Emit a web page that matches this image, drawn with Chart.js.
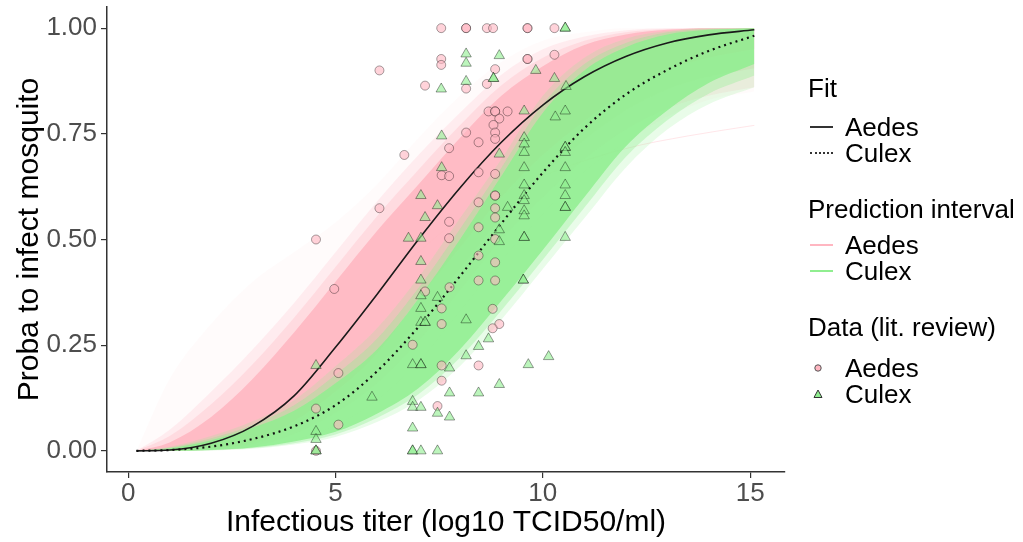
<!DOCTYPE html>
<html>
<head>
<meta charset="utf-8">
<script src="https://cdn.jsdelivr.net/npm/chart.js@4.4.1/dist/chart.umd.min.js"></script>
<style>
  html, body { margin: 0; padding: 0; background: #fff; }
  #wrap { position: relative; width: 1023px; height: 542px; }
  #chart { position: absolute; left: 0; top: 0; }
  .lg { position: absolute; white-space: nowrap; font-family: 'Liberation Sans', Arial, sans-serif;
        font-size: 26px; line-height: 26px; color: #000; }
  .key { position: absolute; }
</style>
</head>
<body>
<div id="wrap">
  <canvas id="chart" width="1023" height="542"></canvas>

  <div class="lg" style="left:808px; top:75px;">Fit</div>
  <div class="key" style="left:810px; top:126px; width:23px; border-top:2px solid #333;"></div>
  <div class="lg" style="left:845px; top:114px;">Aedes</div>
  <div class="key" style="left:810px; top:152px; width:23px; border-top:2px dotted #333;"></div>
  <div class="lg" style="left:845px; top:140px;">Culex</div>

  <div class="lg" style="left:808px; top:196px;">Prediction interval</div>
  <div class="key" style="left:810px; top:244px; width:23px; border-top:2px solid #ffb6c1;"></div>
  <div class="lg" style="left:845px; top:232px;">Aedes</div>
  <div class="key" style="left:810px; top:270px; width:23px; border-top:2px solid #90ee90;"></div>
  <div class="lg" style="left:845px; top:258px;">Culex</div>

  <div class="lg" style="left:808px; top:314px;">Data (lit. review)</div>
  <svg class="key" style="left:812px; top:362px;" width="12" height="12"><circle cx="6" cy="6" r="3.2" fill="#ffb6c1" stroke="#555" stroke-width="1"/></svg>
  <div class="lg" style="left:845px; top:355px;">Aedes</div>
  <svg class="key" style="left:812px; top:388px;" width="12" height="12"><polygon points="6,2 10,9.5 2,9.5" fill="#90ee90" stroke="#333" stroke-width="1"/></svg>
  <div class="lg" style="left:845px; top:381px;">Culex</div>
</div>

<script>
// --- data ---
const xTicks = [0, 5, 10, 15];
const yTicks = [0, 0.25, 0.5, 0.75, 1];

// titer grid for the fitted curves and prediction bands
const gridX = [0.2, 1, 2, 3, 4, 5, 6, 7, 8, 9, 10, 11, 12, 13, 14, 15.1];

const aedesFit = [0, 0.002, 0.018, 0.058, 0.13, 0.245, 0.37, 0.50, 0.622, 0.73, 0.818, 0.885, 0.933, 0.965, 0.984, 0.996];
const culexFit = [0, 0.002, 0.01, 0.028, 0.058, 0.108, 0.188, 0.293, 0.413, 0.538, 0.658, 0.763, 0.843, 0.901, 0.946, 0.982];

// prediction interval envelopes: dense core, two fading rims, faint outliers
const aedesHi  = [0, 0.02, 0.08, 0.17, 0.28, 0.40, 0.52, 0.63, 0.74, 0.84, 0.91, 0.96, 0.985, 0.996, 1, 1];
const aedesLo  = [0, 0, 0.005, 0.02, 0.07, 0.14, 0.23, 0.36, 0.48, 0.60, 0.70, 0.78, 0.85, 0.90, 0.93, 0.95];
const aedesHiM = [0, 0.035, 0.11, 0.205, 0.315, 0.435, 0.555, 0.665, 0.77, 0.865, 0.93, 0.97, 0.99, 0.998, 1, 1];
const aedesLoM = [0, 0, 0.0035, 0.015, 0.055, 0.115, 0.195, 0.31, 0.43, 0.55, 0.65, 0.735, 0.805, 0.855, 0.885, 0.905];
const aedesHi2 = [0, 0.05, 0.14, 0.24, 0.35, 0.47, 0.59, 0.70, 0.80, 0.89, 0.95, 0.98, 0.995, 1, 1, 1];
const aedesLo2 = [0, 0, 0.002, 0.01, 0.04, 0.09, 0.16, 0.26, 0.38, 0.50, 0.60, 0.69, 0.76, 0.81, 0.84, 0.86];
const aedesHi3 = [0, 0.17, 0.30, 0.40, 0.47, 0.54, 0.63, 0.74, 0.84, 0.92, 0.97, 0.99, 1, 1, 1, 1];
const aedesLo3 = [0, 0, 0.001, 0.006, 0.025, 0.06, 0.12, 0.21, 0.33, 0.45, 0.56, 0.66, 0.73, 0.79, 0.83, 0.85];

const culexHi  = [0, 0.006, 0.025, 0.055, 0.095, 0.16, 0.24, 0.36, 0.50, 0.65, 0.80, 0.90, 0.955, 0.985, 0.996, 1];
const culexLo  = [0, 0, 0.002, 0.008, 0.022, 0.045, 0.088, 0.148, 0.24, 0.355, 0.475, 0.60, 0.72, 0.805, 0.87, 0.915];
const culexHiM = [0, 0.008, 0.03, 0.062, 0.108, 0.18, 0.265, 0.385, 0.525, 0.67, 0.82, 0.915, 0.965, 0.99, 0.998, 1];
const culexLoM = [0, 0, 0.0015, 0.0065, 0.018, 0.039, 0.078, 0.134, 0.22, 0.332, 0.452, 0.575, 0.695, 0.782, 0.845, 0.888];
const culexHi2 = [0, 0.01, 0.035, 0.07, 0.12, 0.20, 0.29, 0.41, 0.55, 0.69, 0.84, 0.93, 0.975, 0.993, 1, 1];
const culexLo2 = [0, 0, 0.001, 0.005, 0.015, 0.033, 0.068, 0.12, 0.20, 0.31, 0.43, 0.55, 0.67, 0.76, 0.82, 0.86];

// one stray Aedes draw that stays low on the right
const strayX = [6, 8, 10, 12, 13.5, 15.1];
const strayY = [0.38, 0.55, 0.65, 0.715, 0.745, 0.77];

// literature review observations
const aedesObsX = [7.55, 8.15, 8.15, 8.65, 8.80, 9.63, 9.63, 10.28,
  7.55, 7.55, 9.63, 9.63, 10.28, 8.85, 6.06,
  8.15, 8.65, 7.16,
  8.69, 8.85, 8.85, 9.15, 8.95, 8.81, 8.85, 8.15, 8.85, 8.45, 7.74, 6.66,
  8.45, 8.85, 7.56, 7.74, 8.85, 8.85, 8.45, 8.85, 6.06, 8.85, 7.74, 8.45, 8.85, 7.74, 4.53, 8.45, 8.85,
  7.75, 8.45, 8.85, 4.97, 7.16, 7.56, 8.79, 7.56, 8.95, 8.79, 6.86, 7.56, 8.45, 5.07, 7.56, 7.46, 4.53, 5.07, 4.53];
const aedesObsY = [1, 1, 1, 1, 1, 1, 1, 1,
  0.927, 0.913, 0.927, 0.927, 0.937, 0.903, 0.90,
  0.857, 0.868, 0.864,
  0.803, 0.803, 0.803, 0.803, 0.786, 0.771, 0.753, 0.753, 0.738, 0.73, 0.716, 0.70,
  0.659, 0.655, 0.652, 0.65, 0.604, 0.604, 0.588, 0.574, 0.574, 0.552, 0.542, 0.529, 0.501, 0.503, 0.50, 0.462, 0.446,
  0.387, 0.403, 0.403, 0.383, 0.377, 0.337, 0.336, 0.30, 0.30, 0.29, 0.251, 0.202, 0.202, 0.184, 0.166, 0.106, 0.10, 0.062, 0];

const culexObsX = [10.54, 10.54,
  8.15, 8.15, 8.95, 9.83, 8.81, 8.81, 10.28, 8.15, 7.55, 10.56,
  9.55, 10.54, 10.30, 7.56, 9.55, 9.55, 9.55, 10.54, 10.54, 10.54, 8.95,
  7.56, 9.55, 10.54, 9.55, 10.54, 7.06, 9.55, 9.55, 10.54, 7.46, 9.15, 9.55, 9.55, 10.54, 10.54, 7.16, 8.95, 6.76, 7.06, 8.95, 9.55, 9.55, 10.54,
  7.06, 7.06, 9.53, 9.53, 7.06, 7.46, 7.06, 8.15, 7.06, 7.16, 7.16, 8.69, 8.45, 8.15, 10.14, 6.86, 7.06, 7.06, 7.75, 9.65, 4.53,
  8.95, 7.75, 8.45, 5.88, 6.86, 6.86, 7.06, 7.46, 7.75, 6.86, 4.53, 4.53, 4.53, 4.53, 6.86, 6.86, 7.06, 7.46];
const culexObsY = [1, 1,
  0.939, 0.917, 0.935, 0.90, 0.881, 0.881, 0.881, 0.874, 0.856, 0.862,
  0.804, 0.804, 0.79, 0.745, 0.741, 0.726, 0.706, 0.718, 0.718, 0.706, 0.702,
  0.67, 0.67, 0.67, 0.629, 0.629, 0.604, 0.604, 0.592, 0.604, 0.58, 0.576, 0.568, 0.556, 0.576, 0.576, 0.552, 0.523, 0.503, 0.503, 0.495, 0.505, 0.505, 0.505,
  0.448, 0.404, 0.404, 0.404, 0.367, 0.363, 0.337, 0.31, 0.304, 0.304, 0.304, 0.265, 0.247, 0.225, 0.223, 0.204, 0.204, 0.204, 0.196, 0.204, 0.202,
  0.157, 0.137, 0.137, 0.127, 0.117, 0.103, 0.103, 0.089, 0.08, 0.054, 0.046, 0.027, 0, 0, 0, 0, 0, 0];

// --- chart ---
const FONT = "'Liberation Sans', Arial, sans-serif";
const PINK = '255, 182, 193';
const GREEN = '144, 238, 144';

const pts = (xs, ys) => xs.map((x, i) => ({ x: x, y: ys[i] }));

function edge(ys, fillTo, color) {
    return {
        type: 'line',
        data: pts(gridX, ys),
        borderColor: 'rgba(0,0,0,0)',
        borderWidth: 1,
        pointRadius: 0,
        cubicInterpolationMode: 'monotone',
        fill: fillTo === undefined ? false : fillTo,
        backgroundColor: color || 'rgba(0,0,0,0)'
    };
}

const datasets = [
    edge(aedesLo3),                                     // 0
    edge(aedesHi3, 0, 'rgba(' + PINK + ', 0.06)'),      // 1
    edge(aedesLo2),                                     // 2
    edge(aedesHi2, 2, 'rgba(' + PINK + ', 0.2)'),       // 3
    edge(aedesLoM),                                     // 4
    edge(aedesHiM, 4, 'rgba(' + PINK + ', 0.3)'),       // 5
    edge(aedesLo),                                      // 6
    edge(aedesHi, 6, 'rgba(' + PINK + ', 0.85)'),       // 7
    { type: 'line', data: pts(strayX, strayY), borderColor: 'rgba(' + PINK + ', 0.35)', borderWidth: 1,
      pointRadius: 0, cubicInterpolationMode: 'monotone', fill: false },   // 8
    edge(culexLo2),                                     // 9
    edge(culexHi2, 9, 'rgba(' + GREEN + ', 0.2)'),      // 10
    edge(culexLoM),                                     // 11
    edge(culexHiM, 11, 'rgba(' + GREEN + ', 0.35)'),    // 12
    edge(culexLo),                                      // 13
    edge(culexHi, 13, 'rgba(' + GREEN + ', 0.85)'),     // 14
    { type: 'line', data: pts(gridX, aedesFit), borderColor: '#1a1a1a', borderWidth: 1.6,
      pointRadius: 0, cubicInterpolationMode: 'monotone', fill: false },   // 15
    { type: 'line', data: pts(gridX, culexFit), borderColor: '#111', borderWidth: 2.2, borderDash: [2, 4],
      pointRadius: 0, cubicInterpolationMode: 'monotone', fill: false },   // 16
    { type: 'scatter', data: pts(aedesObsX, aedesObsY), pointStyle: 'circle', pointRadius: 4.5,
      pointBackgroundColor: 'rgba(' + PINK + ', 0.6)', pointBorderColor: 'rgba(0,0,0,0.35)', pointBorderWidth: 1 },  // 17
    { type: 'scatter', data: pts(culexObsX, culexObsY), pointStyle: 'triangle', pointRadius: 6,
      pointBackgroundColor: 'rgba(' + GREEN + ', 0.6)', pointBorderColor: 'rgba(0,0,0,0.38)', pointBorderWidth: 1 } // 18
];
// first dataset at the back
datasets.forEach((d, i) => { d.order = 100 - i; });

Chart.defaults.font.family = FONT;

new Chart(document.getElementById('chart'), {
    type: 'line',
    data: { datasets: datasets },
    options: {
        responsive: false,
        devicePixelRatio: 1,
        animation: false,
        layout: { padding: { left: 0, top: 7, right: 238, bottom: 0 } },
        plugins: { legend: { display: false }, tooltip: { enabled: false } },
        scales: {
            x: {
                type: 'linear', min: -0.51, max: 15.84,
                afterBuildTicks: s => { s.ticks = xTicks.map(v => ({ value: v })); },
                afterFit: s => { s.height = 70; s.paddingLeft = 0; s.paddingRight = 0; },
                ticks: { color: '#4d4d4d', font: { size: 26 }, padding: 0, maxRotation: 0, autoSkip: false },
                grid: { drawOnChartArea: false, drawTicks: true, tickLength: 6, color: '#333', lineWidth: 1.2 },
                border: { display: true, color: '#333', width: 1.5 },
                title: { display: true, text: 'Infectious titer (log10 TCID50/ml)', color: '#000',
                         font: { size: 30 }, padding: { top: 0, bottom: 1 } }
            },
            y: {
                type: 'linear', min: -0.05, max: 1.05,
                afterBuildTicks: s => { s.ticks = yTicks.map(v => ({ value: v })); },
                afterFit: s => { s.width = 107; s.paddingTop = 0; s.paddingBottom = 0; },
                ticks: { color: '#4d4d4d', font: { size: 26 }, padding: 4, callback: v => Number(v).toFixed(2) },
                grid: { drawOnChartArea: false, drawTicks: true, tickLength: 6, color: '#333', lineWidth: 1.2 },
                border: { display: true, color: '#333', width: 1.5 },
                title: { display: true, text: 'Proba to infect mosquito', color: '#000',
                         font: { size: 30 }, padding: { top: 12, bottom: 0 } }
            }
        }
    }
});
</script>
</body>
</html>
